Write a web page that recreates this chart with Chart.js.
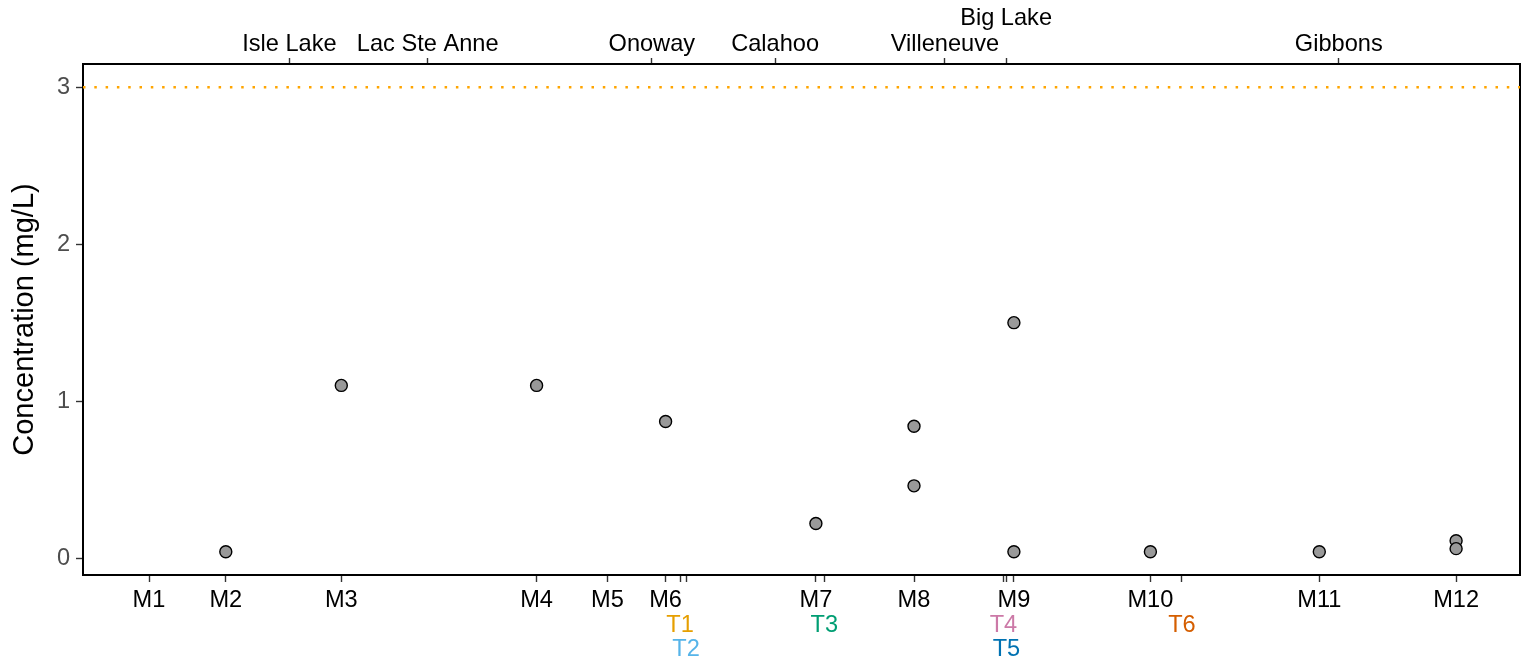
<!DOCTYPE html>
<html>
<head>
<meta charset="utf-8">
<script src="https://cdn.jsdelivr.net/npm/chart.js@4"></script>
<style>
  html, body { margin: 0; padding: 0; background: #fff; overflow: hidden; }
  #wrap { width: 1524px; height: 662px; }
</style>
</head>
<body>
<div id="wrap"><canvas id="chart"></canvas></div>
<script>
// mainstem sites, positions in km along the river
const siteNames = ['M1', 'M2', 'M3', 'M4', 'M5', 'M6', 'M7', 'M8', 'M9', 'M10', 'M11', 'M12'];
const siteKm = [22.0, 47.6, 86.1, 151.2, 174.8, 194.2, 244.3, 277.0, 310.3, 355.8, 412.1, 457.7];

// tributaries
const tribNames = ['T1', 'T2', 'T3', 'T4', 'T5', 'T6'];
const tribKm = [199.0, 201.0, 247.1, 306.8, 307.8, 366.3];
const tribRow = [1, 2, 1, 1, 2, 1];
const tribColors = ['#E69F00', '#56B4E9', '#009E73', '#CC79A7', '#0072B2', '#D55E00'];

// towns on the top axis
const townNames = ['Isle Lake', 'Lac Ste Anne', 'Onoway', 'Calahoo', 'Villeneuve', 'Big Lake', 'Gibbons'];
const townKm = [68.8, 114.9, 189.6, 230.7, 287.3, 307.7, 418.6];
const townRow = [0, 0, 0, 0, 0, 1, 0];

// samples
const sampleSites = ['M2', 'M3', 'M4', 'M6', 'M7', 'M8', 'M8', 'M9', 'M9', 'M10', 'M11', 'M12', 'M12'];
const sampleConc = [0.04, 1.10, 1.10, 0.87, 0.22, 0.84, 0.46, 1.50, 0.04, 0.04, 0.04, 0.11, 0.06];

const guideline = 3;
const yTicks = [0, 1, 2, 3];
const xRange = [0, 479];
const yRange = [-0.108, 3.148];

Chart.defaults.font.family = '"Liberation Sans", Arial, sans-serif';
Chart.defaults.animation = false;

// bottom axis: sites and tributaries share the same tick marks
const bottomTicks = siteNames.map((n, i) => ({ value: siteKm[i], label: n, color: '#000000' }))
    .concat(tribNames.map((n, i) => {
        const lines = [];
        for (let r = 0; r < tribRow[i]; r++) lines.push('');
        lines.push(n);
        return { value: tribKm[i], label: lines, color: tribColors[i] };
    }));

const topTicks = townNames.map((n, i) => ({
    value: townKm[i],
    label: townRow[i] > 0 ? [n, ''] : n
}));

// pin the axis boxes so the plot area lands where the reference has it
function fixSize(prop, size) {
    return (scale) => {
        scale[prop] = size;
        scale.paddingLeft = 0;
        scale.paddingRight = 0;
        scale.paddingTop = 0;
        scale.paddingBottom = 0;
    };
}

new Chart(document.getElementById('chart'), {
    data: {
        datasets: [
            {
                type: 'line',
                data: [{ x: xRange[0], y: guideline }, { x: xRange[1], y: guideline }],
                borderColor: '#FFA500',
                borderWidth: 2.5,
                borderDash: [2.5, 8.8],
                pointRadius: 0,
                xAxisID: 'x',
                yAxisID: 'y'
            },
            {
                type: 'scatter',
                data: sampleSites.map((s, i) => ({ x: siteKm[siteNames.indexOf(s)], y: sampleConc[i] })),
                backgroundColor: '#999999',
                borderColor: '#000000',
                borderWidth: 1.4,
                pointRadius: 6,
                pointHoverRadius: 6,
                xAxisID: 'x',
                yAxisID: 'y'
            }
        ]
    },
    options: {
        responsive: true,
        maintainAspectRatio: false,
        layout: { padding: 0, autoPadding: false },
        plugins: {
            legend: { display: false },
            tooltip: { enabled: false }
        },
        scales: {
            x: {
                type: 'linear',
                position: 'bottom',
                min: xRange[0],
                max: xRange[1],
                afterBuildTicks: (scale) => {
                    scale.ticks = bottomTicks.map(t => ({ value: t.value }));
                },
                afterFit: fixSize('height', 87),
                grid: {
                    drawOnChartArea: false,
                    tickLength: 7,
                    tickColor: '#333333',
                    tickWidth: 1.4
                },
                border: { display: true, color: '#000000', width: 2 },
                ticks: {
                    autoSkip: false,
                    maxRotation: 0,
                    minRotation: 0,
                    padding: 6,
                    font: { size: 23.6, lineHeight: 1.05 },
                    color: (ctx) => bottomTicks[ctx.index] ? bottomTicks[ctx.index].color : '#000',
                    callback: (v, i) => bottomTicks[i].label
                }
            },
            x2: {
                type: 'linear',
                position: 'top',
                min: xRange[0],
                max: xRange[1],
                afterBuildTicks: (scale) => {
                    scale.ticks = topTicks.map(t => ({ value: t.value }));
                },
                afterFit: fixSize('height', 64),
                grid: {
                    drawOnChartArea: false,
                    tickLength: 6,
                    tickColor: '#333333',
                    tickWidth: 1.4
                },
                border: { display: true, color: '#000000', width: 2 },
                ticks: {
                    autoSkip: false,
                    maxRotation: 0,
                    minRotation: 0,
                    padding: 1,
                    font: { size: 23.6, lineHeight: 1.1 },
                    color: '#000000',
                    callback: (v, i) => topTicks[i].label
                }
            },
            y: {
                type: 'linear',
                position: 'left',
                min: yRange[0],
                max: yRange[1],
                afterBuildTicks: (scale) => {
                    scale.ticks = yTicks.map(v => ({ value: v }));
                },
                afterFit: fixSize('width', 83),
                grid: {
                    drawOnChartArea: false,
                    tickLength: 7,
                    tickColor: '#333333',
                    tickWidth: 1.4
                },
                border: { display: true, color: '#000000', width: 2 },
                ticks: {
                    padding: 6,
                    font: { size: 23.6 },
                    color: '#4D4D4D'
                },
                title: {
                    display: true,
                    text: 'Concentration (mg/L)',
                    color: '#000000',
                    font: { size: 29, lineHeight: 1 },
                    padding: { top: 10, bottom: 0 }
                }
            },
            y2: {
                type: 'linear',
                position: 'right',
                min: yRange[0],
                max: yRange[1],
                afterFit: fixSize('width', 4),
                grid: { display: false },
                border: { display: true, color: '#000000', width: 2 },
                ticks: { display: false }
            }
        }
    }
});
</script>
</body>
</html>
